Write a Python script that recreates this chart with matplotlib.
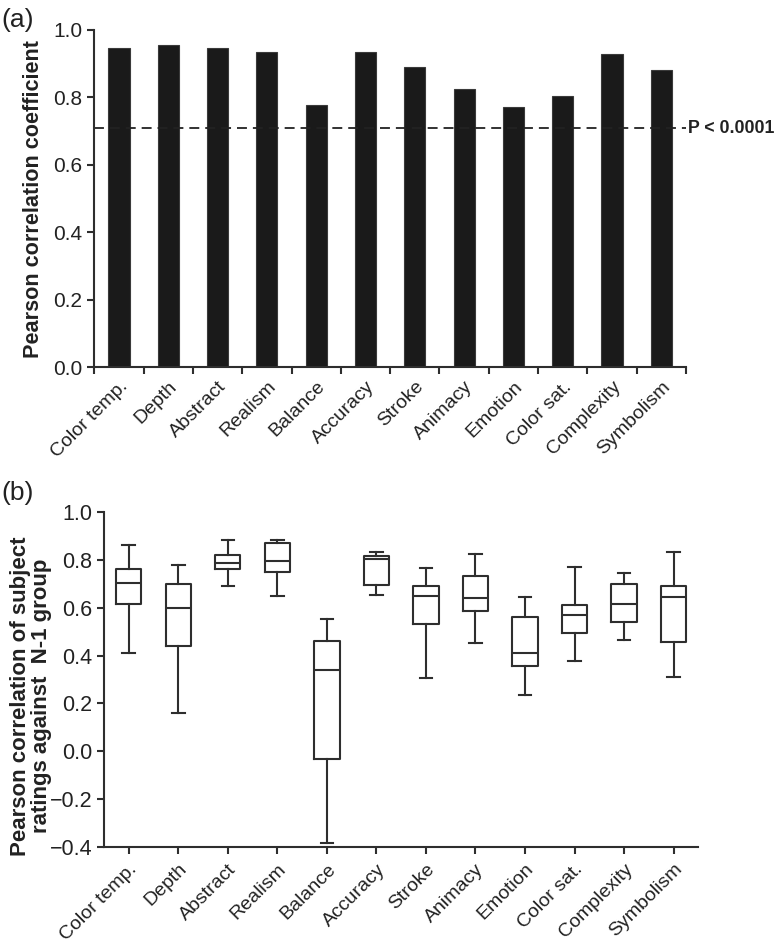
import numpy as np
import matplotlib
matplotlib.use("Agg")
import matplotlib.pyplot as plt

plt.rcParams['font.family'] = ['Liberation Sans', 'DejaVu Sans']

categories = ['Color temp.', 'Depth', 'Abstract', 'Realism', 'Balance', 'Accuracy',
              'Stroke', 'Animacy', 'Emotion', 'Color sat.', 'Complexity', 'Symbolism']

# panel (a): group correlation per attribute
pearson_r = [0.946, 0.954, 0.948, 0.934, 0.778, 0.936,
             0.891, 0.824, 0.772, 0.804, 0.929, 0.880]
p_threshold = 0.708

# panel (b): subject vs N-1 group correlations (box stats)
whisker_low = [0.410, 0.159, 0.692, 0.651, -0.386, 0.653,
               0.305, 0.454, 0.235, 0.378, 0.465, 0.312]
q1 = [0.616, 0.440, 0.763, 0.749, -0.032, 0.695,
      0.534, 0.585, 0.356, 0.493, 0.541, 0.458]
median = [0.703, 0.598, 0.787, 0.795, 0.340, 0.804,
          0.651, 0.643, 0.413, 0.569, 0.618, 0.647]
q3 = [0.763, 0.699, 0.820, 0.873, 0.460, 0.816,
      0.692, 0.732, 0.560, 0.612, 0.700, 0.692]
whisker_high = [0.864, 0.780, 0.885, 0.885, 0.553, 0.833,
                0.766, 0.824, 0.647, 0.770, 0.745, 0.834]

dark = '#222222'
line_c = '#2e2e2e'

fig = plt.figure(figsize=(7.78, 9.43), dpi=100)
ax1 = fig.add_axes([0.1212, 0.6108, 0.7606, 0.3574])
ax2 = fig.add_axes([0.1337, 0.1021, 0.7639, 0.3546])

x = np.arange(len(categories))

# ---- (a) bars
ax1.bar(x, pearson_r, width=0.43, color='#1a1a1a', edgecolor='#3a3a3a', linewidth=0.8)
ax1.axhline(p_threshold, color=dark, linestyle=(0, (5.5, 3.3)), linewidth=1.3)
ax1.text(1.004, p_threshold, 'P < 0.0001', transform=ax1.get_yaxis_transform(),
         ha='left', va='center', fontsize=12.8, fontweight='bold', color=dark)
ax1.set_xlim(-0.5, 11.5)
ax1.set_ylim(0, 1.0)
ax1.set_xticks(np.arange(-0.5, 12, 1.0))
ax1.set_xticklabels([])
ax1.set_xticks(x, minor=True)
ax1.set_xticklabels(categories, minor=True, rotation=45, ha='right',
                    rotation_mode='anchor', fontsize=14, color=dark)
ax1.tick_params(axis='x', which='minor', length=0, pad=8)
ax1.set_yticks(np.arange(0, 1.01, 0.2))
ax1.set_yticklabels(['%.1f' % v for v in np.arange(0, 1.01, 0.2)], fontsize=15, color=dark)
ax1.set_ylabel('Pearson correlation coefficient', fontsize=15.6, fontweight='bold',
               color=dark)
ax1.yaxis.set_label_coords(-0.085, 0.5)

# ---- (b) boxes
stats = []
for i in range(len(categories)):
    stats.append({'whislo': whisker_low[i], 'q1': q1[i], 'med': median[i],
                  'q3': q3[i], 'whishi': whisker_high[i], 'fliers': []})
lp = dict(color=line_c, linewidth=1.5)
ax2.bxp(stats, positions=x, widths=0.51, showfliers=False,
        boxprops=lp, medianprops=lp, whiskerprops=lp, capprops=lp)
ax2.set_xlim(-0.5, 11.5)
ax2.set_ylim(-0.4, 1.0)
ax2.set_xticks(x)
ax2.set_xticklabels(categories, rotation=45, ha='right', rotation_mode='anchor',
                    fontsize=14, color=dark)
ax2.tick_params(axis='x', pad=5)
yt = np.arange(-0.4, 1.01, 0.2)
ax2.set_yticks(yt)
ax2.set_yticklabels(['\u2212%.1f' % abs(v) if v < -1e-9 else '%.1f' % abs(v) for v in yt],
                    fontsize=15.5, color=dark)
ax2.set_ylabel('Pearson correlation of subject\nratings against  N-1 group', fontsize=16,
               fontweight='bold', color=dark, linespacing=1.0)
ax2.yaxis.set_label_coords(-0.088, 0.45)

for ax in (ax1, ax2):
    ax.spines['top'].set_visible(False)
    ax.spines['right'].set_visible(False)
    for s in ('left', 'bottom'):
        ax.spines[s].set_linewidth(1.5)
        ax.spines[s].set_color(line_c)
    ax.tick_params(which='major', direction='out', length=5, width=1.5, color=line_c)

fig.text(0.002, 0.991, '(a)', fontsize=19, ha='left', va='top', color=dark)
fig.text(0.002, 0.49, '(b)', fontsize=19, ha='left', va='top', color=dark)

fig.savefig('out.png', dpi=100)
